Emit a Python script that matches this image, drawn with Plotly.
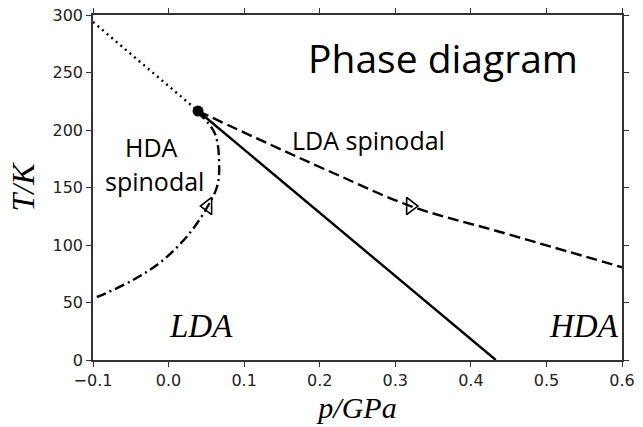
import plotly.graph_objects as go

# Critical point
crit_p = [0.039]
crit_T = [216.5]

# Coexistence line (solid)
coex_p = [0.039, 0.433]
coex_T = [216.5, 0.0]

# Extension line (dotted)
dot_p = [-0.1, 0.039]
dot_T = [294.0, 216.5]

# LDA spinodal (dashed)
lda_p = [0.039, 0.130, 0.218, 0.320, 0.439, 0.601]
lda_T = [216.5, 188.7, 162.6, 133.9, 111.3, 80.5]

# HDA spinodal (dash-dot)
hda_p = [0.038, 0.061, 0.067, 0.064, 0.052, 0.028, -0.007, -0.047, -0.095, -0.1]
hda_T = [215.7, 197.4, 167.8, 150.4, 133.9, 110.4, 87.0, 69.6, 54.8, 54.0]

# Arrow markers
arr_lda = (0.320, 133.9)
arr_hda = (0.052, 133.9)

xticks = [-0.1, 0.0, 0.1, 0.2, 0.3, 0.4, 0.5, 0.6]
xticklabels = ["\u22120.1", "0.0", "0.1", "0.2", "0.3", "0.4", "0.5", "0.6"]
yticks = [0, 50, 100, 150, 200, 250, 300]

fig = go.Figure()
lw = 2.4
fig.add_trace(go.Scatter(x=dot_p, y=dot_T, mode="lines",
                         line=dict(color="black", width=lw, dash="2px,4px")))
fig.add_trace(go.Scatter(x=coex_p, y=coex_T, mode="lines",
                         line=dict(color="black", width=lw)))
fig.add_trace(go.Scatter(x=lda_p, y=lda_T, mode="lines", line_shape="spline",
                         line=dict(color="black", width=lw, dash="11px,5px")))
fig.add_trace(go.Scatter(x=hda_p, y=hda_T, mode="lines", line_shape="spline",
                         line=dict(color="black", width=lw, dash="10px,4px,2px,4px")))
fig.add_trace(go.Scatter(x=[arr_lda[0]], y=[arr_lda[1]], mode="markers",
                         marker=dict(symbol="triangle-right-open", size=15, color="black",
                                     line=dict(width=1.6, color="black"))))
fig.add_trace(go.Scatter(x=[arr_hda[0]], y=[arr_hda[1]], mode="markers",
                         marker=dict(symbol="triangle-left-open", size=15, color="black",
                                     line=dict(width=1.6, color="black"))))
fig.add_trace(go.Scatter(x=crit_p, y=crit_T, mode="markers",
                         marker=dict(symbol="circle", size=11, color="black")))

sans = "Open Sans"
serif = "Liberation Serif"
ann = [
    dict(x=0.363, y=263, text="Phase diagram", font=dict(family=sans, size=39, color="black")),
    dict(x=0.264, y=191, text="LDA spinodal", font=dict(family=sans, size=25, color="black")),
    dict(x=-0.022, y=185, text="HDA", font=dict(family=sans, size=25, color="black")),
    dict(x=-0.018, y=156, text="spinodal", font=dict(family=sans, size=25, color="black")),
    dict(x=0.043, y=30, text="<i>LDA</i>", font=dict(family=serif, size=33, color="black")),
    dict(x=0.55, y=30, text="<i>HDA</i>", font=dict(family=serif, size=33, color="black")),
]
for a in ann:
    a.update(xref="x", yref="y", showarrow=False, xanchor="center", yanchor="middle")

axis_common = dict(showline=True, linecolor="#333", linewidth=1.5, mirror="ticks",
                   ticks="outside", ticklen=5, tickwidth=1.2, tickcolor="#333",
                   showgrid=False, zeroline=False, automargin=False,
                   tickfont=dict(family="DejaVu Sans", size=16, color="#222"))

fig.update_layout(
    width=643, height=427,
    margin=dict(l=93, r=21, t=15, b=67),
    paper_bgcolor="white", plot_bgcolor="white",
    showlegend=False,
    annotations=ann,
    xaxis=dict(range=[-0.1, 0.6], tickvals=xticks, ticktext=xticklabels,
               title=dict(text="<i>p/GPa</i>", font=dict(family=serif, size=30, color="black"), standoff=8),
               **axis_common),
    yaxis=dict(range=[0, 300], tickvals=yticks,
               title=dict(text="<i>T/K</i>", font=dict(family=serif, size=32, color="black"), standoff=8),
               **axis_common),
)
fig.write_html("out.html")
